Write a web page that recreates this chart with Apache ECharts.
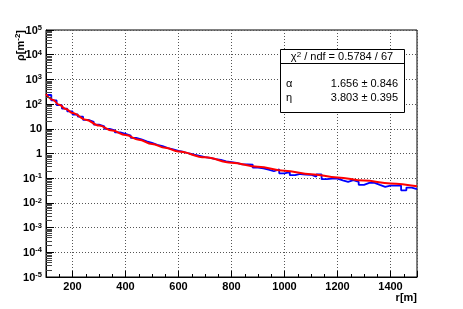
<!DOCTYPE html>
<html><head><meta charset="utf-8">
<script src="https://cdn.jsdelivr.net/npm/echarts@6/dist/echarts.min.js"></script>
<style>html,body{margin:0;padding:0;background:#fff}#c{width:463px;height:309px}</style>
</head><body><div id="c"></div>
<script>
// ---- data ----
const rLow = [100,120,140,160,180,200,220,240,260,280,300,320,340,360,380,400,420,440,460,480,
  500,520,540,560,580,600,620,640,660,680,700,720,740,760,780,800,820,840,860,880,
  900,920,940,960,980,1000,1020,1040,1060,1080,1100,1120,1140,1160,1180,1200,1220,1240,1260,1280,
  1300,1320,1340,1360,1380,1400,1420,1440,1460,1480];
const binWidth = 20;
const histRho = [234,141,91,66,51,38,31,22.9,19.1,14.8,12.6,10.0,8.7,7.1,6.2,5.25,4.27,3.72,3.09,2.69,
  2.24,2.0,1.66,1.48,1.29,1.15,1.0,0.89,0.81,0.72,0.66,0.59,0.55,0.48,0.447,
  0.417,0.363,0.363,0.355,0.269,0.251,0.224,0.191,0.229,0.158,0.178,0.132,0.148,0.141,0.138,
  0.115,0.141,0.0912,0.0955,0.0955,0.0813,0.0708,0.0832,0.0708,0.0537,0.0646,0.0646,0.0537,0.0447,0.0501,
  0.0501,0.0501,0.0324,0.0417,0.0363];
const fitR = [100,125,150,175,200,250,300,350,400,450,500,550,600,700,800,900,1000,1100,1200,1300,1400,1500];
const fitRho = [257,151,93.3,63,43.7,23.4,13.5,8.5,5.62,3.63,2.45,1.70,1.20,0.697,0.427,0.288,0.200,0.145,0.107,0.0804,0.0617,0.0468];
const xLabelStep = 200;
const statsTitle = ['χ', '2', ' / ndf = 0.5784 / 67'];
const statsNames = ['α', 'η'];
const statsValues = ['1.656 ± 0.846', '3.803 ± 0.395'];
const xName = 'r[m]';
const yName = ['ρ[m', '-2', ']'];

const xMin = 100, xMax = 1500, yMin = 1e-5, yMax = 1e5;
const FONT = '"Liberation Sans", Arial, Helvetica, sans-serif';

const histData = rLow.map((r, i) => [r, histRho[i]]);
histData.push([rLow[rLow.length - 1] + binWidth, histRho[histRho.length - 1]]);
const fitData = fitR.map((r, i) => [r, fitRho[i]]);

// minor tick positions (axis decoration)
const yMinor = [];
for (let e = -5; e < 5; e++) for (let m = 2; m < 10; m++) yMinor.push([xMin, m * Math.pow(10, e)]);
const xMinor = [];
for (let x = 150; x < xMax; x += 50) if (x % xLabelStep !== 0) xMinor.push([x, yMin]);

const chart = echarts.init(document.getElementById('c'));
chart.setOption({
  animation: false,
  backgroundColor: '#fff',
  grid: {left: 46, right: 46, top: 30, bottom: 32, show: true, borderColor: '#000', borderWidth: 1},
  xAxis: {
    type: 'value', min: xMin, max: xMax, splitNumber: 7,
    axisLine: {show: true, lineStyle: {color: '#000', width: 1}},
    axisTick: {show: true, inside: true, length: 6, lineStyle: {color: '#000'}},
    axisLabel: {formatter: v => (v % xLabelStep === 0 ? String(v) : ''), color: '#000', fontSize: 11,
      fontWeight: 'bold', fontFamily: FONT, margin: 4},
    splitLine: {show: true, lineStyle: {color: '#555', type: [1, 2], width: 1}}
  },
  yAxis: {
    type: 'log', logBase: 10, min: yMin, max: yMax, interval: 1,
    axisLine: {show: true, lineStyle: {color: '#000', width: 1}},
    axisTick: {show: true, inside: true, length: 8, lineStyle: {color: '#000'}},
    axisLabel: {
      color: '#000', fontFamily: FONT, margin: 4,
      formatter: v => {
        const e = Math.round(Math.log10(v));
        if (e === 0) return '{b|1}';
        if (e === 1) return '{b|10}';
        return '{p|10}{s|' + e + '}';
      },
      rich: {
        b: {fontSize: 11, fontWeight: 'bold', fontFamily: FONT, color: '#000'},
        p: {fontSize: 11, fontWeight: 'bold', fontFamily: FONT, color: '#000', lineHeight: 12, padding: [4, 0, 0, 0], verticalAlign: 'bottom'},
        s: {fontSize: 7.5, fontWeight: 'bold', fontFamily: FONT, color: '#000', lineHeight: 8, verticalAlign: 'top'}
      }
    },
    splitLine: {show: true, lineStyle: {color: '#555', type: [1, 2], width: 1}}
  },
  series: [
    {type: 'line', data: histData, step: 'end', symbol: 'none', z: 3,
     lineStyle: {color: '#0000ff', width: 1.8}},
    {type: 'line', data: fitData, smooth: 0.4, smoothMonotone: 'x', symbol: 'none', z: 4,
     lineStyle: {color: '#ff0000', width: 2}},
    {type: 'custom', data: yMinor, encode: {x: 0, y: 1}, z: 5, silent: true,
     renderItem: (params, api) => {
       const p = api.coord([api.value(0), api.value(1)]);
       return {type: 'line', shape: {x1: p[0], y1: Math.round(p[1]) + 0.5, x2: p[0] + 6, y2: Math.round(p[1]) + 0.5},
               style: {stroke: '#444', lineWidth: 1}};
     }},
    {type: 'custom', data: xMinor, encode: {x: 0, y: 1}, z: 5, silent: true,
     renderItem: (params, api) => {
       const p = api.coord([api.value(0), api.value(1)]);
       return {type: 'line', shape: {x1: Math.round(p[0]) + 0.5, y1: p[1], x2: Math.round(p[0]) + 0.5, y2: p[1] - 3},
               style: {stroke: '#000', lineWidth: 1}};
     }}
  ],
  graphic: [
    {type: 'text', x: 417, y: 298, z: 10,
     style: {text: xName, fontSize: 11, fontWeight: 'bold', fontFamily: FONT, fill: '#000', align: 'right', verticalAlign: 'middle'}},
    {type: 'text', x: 20, y: 30, rotation: Math.PI / 2, z: 10,
     style: {text: '{a|' + yName[0] + '}{s|' + yName[1] + '}{a|' + yName[2] + '}', align: 'right', verticalAlign: 'middle',
       rich: {
         a: {fontSize: 11, fontWeight: 'bold', fontFamily: FONT, fill: '#000', lineHeight: 12, padding: [4, 0, 0, 0], verticalAlign: 'bottom'},
         s: {fontSize: 8, fontWeight: 'bold', fontFamily: FONT, fill: '#000', lineHeight: 8, verticalAlign: 'top'}
       }}},
    {type: 'rect', z: 20, shape: {x: 280.5, y: 49.5, width: 124, height: 63},
     style: {fill: '#fff', stroke: '#000', lineWidth: 1}},
    {type: 'line', z: 21, shape: {x1: 280.5, y1: 63.5, x2: 404.5, y2: 63.5}, style: {stroke: '#000', lineWidth: 1}},
    {type: 'text', x: 342, y: 56.5, z: 22,
     style: {text: '{a|' + statsTitle[0] + '}{s|' + statsTitle[1] + '}{a|' + statsTitle[2] + '}', align: 'center', verticalAlign: 'middle',
       rich: {
         a: {fontSize: 11, fontFamily: FONT, fill: '#000', lineHeight: 11, padding: [3, 0, 0, 0], verticalAlign: 'bottom'},
         s: {fontSize: 8, fontFamily: FONT, fill: '#000', lineHeight: 8, verticalAlign: 'top'}
       }}},
    {type: 'text', x: 286, y: 83.5, z: 22,
     style: {text: statsNames[0], fontSize: 11, fontFamily: FONT, fill: '#000', align: 'left', verticalAlign: 'middle'}},
    {type: 'text', x: 398, y: 83.5, z: 22,
     style: {text: statsValues[0], fontSize: 11, fontFamily: FONT, fill: '#000', align: 'right', verticalAlign: 'middle'}},
    {type: 'text', x: 286, y: 97.5, z: 22,
     style: {text: statsNames[1], fontSize: 11, fontFamily: FONT, fill: '#000', align: 'left', verticalAlign: 'middle'}},
    {type: 'text', x: 398, y: 97.5, z: 22,
     style: {text: statsValues[1], fontSize: 11, fontFamily: FONT, fill: '#000', align: 'right', verticalAlign: 'middle'}}
  ]
});
</script>
</body></html>
